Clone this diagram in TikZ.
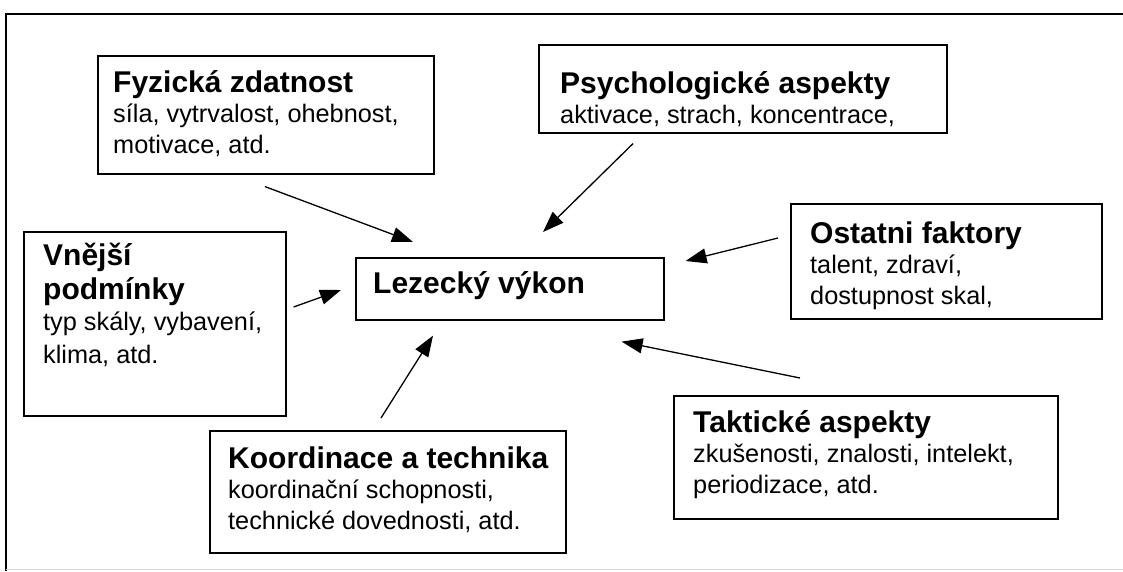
\documentclass[tikz,border=0pt]{standalone}
\usepackage{fontspec}
\setmainfont{Liberation Sans}
\usetikzlibrary{arrows.meta}
\newcommand\boxtitle[1]{{\fontsize{30}{30.5}\selectfont\bfseries\rule{0pt}{30pt}#1}}
\newcommand\plaintitle[1]{{\fontsize{30}{30.5}\selectfont\bfseries#1}}
\begin{document}
\begin{tikzpicture}[x=1pt,y=-1pt,
  box/.style={draw=black, line width=1.6pt, anchor=north west, inner sep=0pt},
  txt/.style={anchor=north west, inner sep=0pt, align=left,
    font=\fontsize{25.3}{30.5}\selectfont},
  feed/.style={line width=1.3pt, -{Triangle[length=21pt,width=15pt]}}]
\useasboundingbox (0,0) rectangle (1123,571);
\fill[white] (0,0) rectangle (1123,571);

% outer frame
\draw[line width=2.5pt] (1123,14) -- (6,14) -- (6,571);
\draw[black!15, line width=1pt] (6,569) -- (1123,569);

% boxes
\node[box, minimum width=336pt, minimum height=118pt] (fyz) at (97,55) {};
\node[box, minimum width=408pt, minimum height=88pt]  (psy) at (538,44) {};
\node[box, minimum width=262pt, minimum height=184pt] (vne) at (23,231) {};
\node[box, minimum width=308pt, minimum height=62pt]  (lez) at (355,257) {};
\node[box, minimum width=311pt, minimum height=115pt] (ost) at (790,203) {};
\node[box, minimum width=356pt, minimum height=122pt] (koo) at (209,430) {};
\node[box, minimum width=384pt, minimum height=123pt] (tak) at (673,395) {};

% box texts
\node[txt] (fyz-t) at (113,62) {\boxtitle{Fyzická zdatnost}\\síla, vytrvalost, ohebnost,\\motivace, atd.};
\node[txt] (psy-t) at (560,63) {\boxtitle{Psychologické aspekty}\\aktivace, strach, koncentrace,};
\node[txt] (vne-t) at (43,235) {\boxtitle{Vnější}\\[4pt]\plaintitle{podmínky}\\[0.5pt]typ skály, vybavení,\\[2.5pt]klima, atd.};
\node[anchor=base west, inner sep=0pt, font=\fontsize{30}{30}\selectfont\bfseries] (lez-t) at (373,293) {Lezecký výkon};
\node[txt] (ost-t) at (810,213) {\boxtitle{Ostatni faktory}\\talent, zdraví,\\dostupnost skal,};
\node[txt] (koo-t) at (228,438) {\boxtitle{Koordinace a technika}\\koordinační schopnosti,\\technické dovednosti, atd.};
\node[txt] (tak-t) at (693,402) {\boxtitle{Taktické aspekty}\\zkušenosti, znalosti, intelekt,\\periodizace, atd.};

% influences pointing to the central box
\draw[feed] ([shift={(168,12)}]fyz.south west) -- ([shift={(58,-15)}]lez.north west);
\draw[feed] ([shift={(95,10)}]psy.south west) -- ([shift={(188,-25)}]lez.north west);
\draw[feed] ([shift={(-12,35)}]ost.north west) -- ([shift={(21,4)}]lez.north east);
\draw[feed] ([shift={(7,76)}]vne.north east) -- ([shift={(-14,33)}]lez.north west);
\draw[feed] ([shift={(172,-12)}]koo.north west) -- ([shift={(78,15)}]lez.south west);
\draw[feed] ([shift={(127,-17)}]tak.north west) -- ([shift={(-43,21)}]lez.south east);
\end{tikzpicture}
\end{document}
